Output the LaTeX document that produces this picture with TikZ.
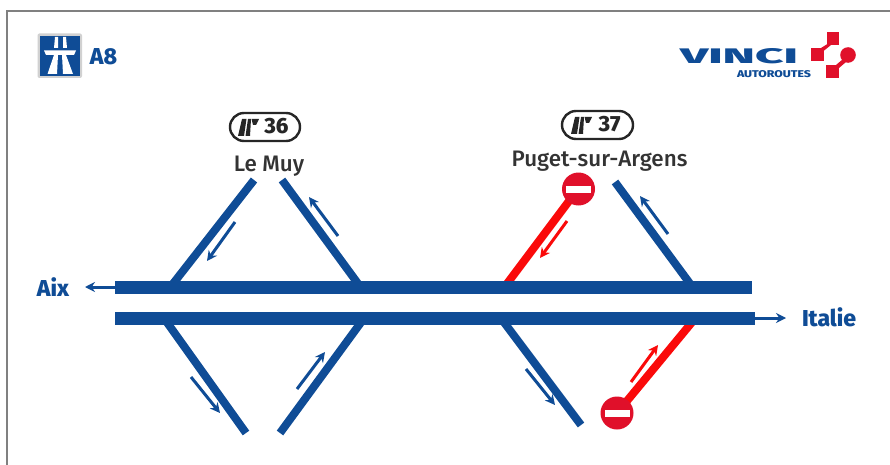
\documentclass[tikz,border=0pt]{standalone}
\usepackage{fontspec}
\setmainfont{Fira Sans}[BoldFont={Fira Sans ExtraBold}]
\newfontfamily\medfont{Fira Sans Medium}
\usetikzlibrary{arrows.meta}
\definecolor{vblue}{HTML}{0F4C96}
\definecolor{vred}{HTML}{FA0A0A}
\definecolor{lred}{HTML}{E0102A}
\definecolor{ink}{HTML}{333333}
\tikzset{
  x=1pt,y=-1pt,
  road/.style={fill=vblue,draw=none},
  ramp/.style={draw=vblue,line width=8pt},
  closed/.style={draw=vred,line width=8pt},
  dirb/.style={draw=vblue,line width=3pt,-{Stealth[length=10pt,width=10pt]}},
  dirr/.style={draw=vred,line width=3pt,-{Stealth[length=10pt,width=10pt]}},
  place/.style={font=\fontsize{22.4}{23}\selectfont\medfont,text=ink,inner sep=0pt},
  dest/.style={font=\fontsize{23}{23}\selectfont\bfseries,text=vblue,inner sep=0pt},
  badge/.style={draw=black!85,line width=2.4pt,rounded corners=14pt,minimum height=28pt,fill=white},
  noentry/.style={circle,fill=lred,draw=none,minimum size=33pt,inner sep=0pt},
  nobar/.style={fill=white,draw=none},
  lg/.style={fill=lred,draw=none},
  num/.style={inner sep=0pt,font=\fontsize{22}{22}\selectfont\bfseries,text=black!85}
}
\newcommand{\exiticon}[2]{%
  \fill[black!85] (#1-9,#2+9) -- (#1-5,#2-8) -- (#1-0.5,#2-8) -- (#1-3,#2+9) -- cycle;
  \fill[black!85] (#1-1.5,#2+9) -- (#1+1,#2-8) -- (#1+4,#2-8) -- (#1+3,#2+9) -- cycle;
  \fill[black!85] (#1+4.5,#2-8) -- (#1+12,#2-8) -- (#1+9,#2-2) -- (#1+6,#2-2) -- cycle;
}
\begin{document}
\begin{tikzpicture}
\useasboundingbox (0,0) rectangle (890,465);
\fill[white] (0,0) rectangle (890,465);
\draw[black!50,line width=1.6pt] (7,465) -- (7,11) -- (890,11);

% motorway icon
\fill[black!18,rounded corners=2pt] (37.5,33.5) rectangle (82,78);
\fill[vblue] (40,36) rectangle (79.5,76);
\fill[white] (44,50.5) -- (76,50.5) -- (74,55) -- (46,55) -- cycle;
\fill[white] (47.5,74) -- (54,55) -- (58,55) -- (57,74) -- cycle;
\fill[white] (63,74) -- (62,55) -- (66,55) -- (73,74) -- cycle;
\fill[white] (55,37) -- (58,37) -- (58,48) -- (54,48) -- cycle;
\fill[white] (63,37) -- (66,37) -- (67,48) -- (63,48) -- cycle;
\node[dest] (a8) at (103.5,56.5) {A8};

% VINCI logo
\node[inner sep=0pt,text=vblue] (vinci) at (739,56.5) {\resizebox{118pt}{15pt}{\medfont\textbf{VINCI}}};
\node[inner sep=0pt,text=vblue] (auto) at (774,74.5) {\resizebox{74pt}{7pt}{\bfseries AUTOROUTES}};
\fill[lg] (827,32) rectangle (839,45);
\fill[lg] (810.5,48) rectangle (823.5,61);
\fill[lg] (826,65) rectangle (839,78);
\fill[lg] (848,55) circle (7.8);
\fill[lg] (821,48) -- (829,43) -- (831,45) -- (823.5,51) -- cycle;
\fill[lg] (836,65) -- (843,59) -- (846,62) -- (839,68) -- cycle;

% coordinates
\coordinate (m1a) at (254,180); \coordinate (m1b) at (172,285);
\coordinate (m2a) at (282,180); \coordinate (m2b) at (359,285);
\coordinate (p1a) at (578,189); \coordinate (p1b) at (506,285);
\coordinate (p2a) at (615,182); \coordinate (p2b) at (691,285);
\coordinate (m3a) at (166,321); \coordinate (m3b) at (246,433);
\coordinate (m4a) at (362,321); \coordinate (m4b) at (280,433);
\coordinate (p3a) at (503,321); \coordinate (p3b) at (581,425);
\coordinate (p4a) at (693,321); \coordinate (p4b) at (617,413);

% ramps
\draw[ramp] (m1a) -- (m1b);
\draw[ramp] (m2a) -- (m2b);
\draw[closed] (p1a) -- (p1b);
\draw[ramp] (p2a) -- (p2b);
\draw[ramp] (m3a) -- (m3b);
\draw[ramp] (m4a) -- (m4b);
\draw[ramp] (p3a) -- (p3b);
\draw[closed] (p4a) -- (p4b);

% carriageways
\fill[road] (115,281) rectangle (752,294);
\fill[road] (115,312) rectangle (755,325);

% end arrows and destinations
\node[dest] (aix) at (53,287) {Aix};
\node[dest] (italie) at (829,317.5) {Italie};
\coordinate (aixs) at (115,287); \coordinate (aixe) at (85,287);
\coordinate (its) at (755,318); \coordinate (ite) at (786,318);
\draw[dirb] (aixs) -- (aixe);
\draw[dirb] (its) -- (ite);

% direction arrows
\draw[dirb] (235,222) -- (207,261);
\draw[dirb] (338,236) -- (309,197);
\draw[dirr] (567,221) -- (540,258);
\draw[dirb] (668,234) -- (640,196);
\draw[dirb] (191,377) -- (220,413);
\draw[dirb] (297,389) -- (325,352);
\draw[dirb] (526,369) -- (555,405);
\draw[dirr] (631,382) -- (658,345);

% no entry signs
\node[noentry] (ne1) at (578.5,189) {};
\fill[nobar] (566,185.5) rectangle (591,192.5);
\node[noentry] (ne2) at (617,413) {};
\fill[nobar] (604.5,409.5) rectangle (629.5,416.5);

% junction badges
\node[badge,minimum width=70pt] (b36) at (265,127) {};
\exiticon{247}{127}
\node[num] (n36) at (276.5,126) {36};
\node[badge,minimum width=71pt] (b37) at (597.5,125) {};
\exiticon{580}{125}
\node[num] (n37) at (609.5,124) {37};

% places
\node[place] (muy) at (269,166) {Le Muy};
\node[place] (puget) at (599.5,161.5) {Puget-sur-Argens};
\end{tikzpicture}
\end{document}
